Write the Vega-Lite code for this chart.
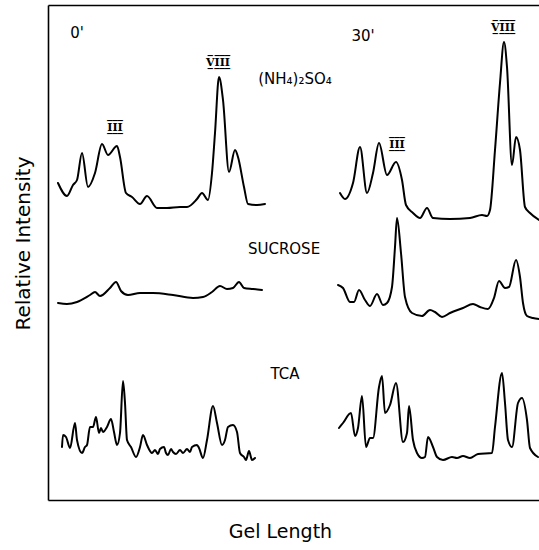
{
  "$schema": "https://vega.github.io/schema/vega-lite/v6.json",
  "width": 491,
  "height": 495,
  "autosize": {"type": "none"},
  "padding": {"left": 48, "top": 5, "right": 0, "bottom": 50},
  "background": "white",
  "config": {
    "view": {"stroke": null},
    "axis": {"domainColor": "black", "domainWidth": 1.6, "grid": false, "ticks": false, "labels": false, "titleFont": "DejaVu Sans", "titleFontWeight": "normal", "titleColor": "black"}
  },
  "datasets": {
    "traces": [
      {"trace": "0' (NH4)2SO4", "gel": 10, "intensity": 317},
      {"trace": "0' (NH4)2SO4", "gel": 19, "intensity": 304},
      {"trace": "0' (NH4)2SO4", "gel": 25, "intensity": 315},
      {"trace": "0' (NH4)2SO4", "gel": 29, "intensity": 320},
      {"trace": "0' (NH4)2SO4", "gel": 34, "intensity": 347},
      {"trace": "0' (NH4)2SO4", "gel": 40, "intensity": 313},
      {"trace": "0' (NH4)2SO4", "gel": 47, "intensity": 327},
      {"trace": "0' (NH4)2SO4", "gel": 54, "intensity": 356},
      {"trace": "0' (NH4)2SO4", "gel": 60, "intensity": 345},
      {"trace": "0' (NH4)2SO4", "gel": 69, "intensity": 354},
      {"trace": "0' (NH4)2SO4", "gel": 72, "intensity": 343},
      {"trace": "0' (NH4)2SO4", "gel": 78, "intensity": 307},
      {"trace": "0' (NH4)2SO4", "gel": 84, "intensity": 303},
      {"trace": "0' (NH4)2SO4", "gel": 92, "intensity": 296},
      {"trace": "0' (NH4)2SO4", "gel": 99, "intensity": 304},
      {"trace": "0' (NH4)2SO4", "gel": 109, "intensity": 292},
      {"trace": "0' (NH4)2SO4", "gel": 119, "intensity": 292},
      {"trace": "0' (NH4)2SO4", "gel": 132, "intensity": 293},
      {"trace": "0' (NH4)2SO4", "gel": 139, "intensity": 293},
      {"trace": "0' (NH4)2SO4", "gel": 149, "intensity": 301},
      {"trace": "0' (NH4)2SO4", "gel": 154, "intensity": 307},
      {"trace": "0' (NH4)2SO4", "gel": 160, "intensity": 300},
      {"trace": "0' (NH4)2SO4", "gel": 164, "intensity": 327},
      {"trace": "0' (NH4)2SO4", "gel": 167, "intensity": 367},
      {"trace": "0' (NH4)2SO4", "gel": 171, "intensity": 423},
      {"trace": "0' (NH4)2SO4", "gel": 175, "intensity": 400},
      {"trace": "0' (NH4)2SO4", "gel": 181, "intensity": 328},
      {"trace": "0' (NH4)2SO4", "gel": 187, "intensity": 350},
      {"trace": "0' (NH4)2SO4", "gel": 190, "intensity": 343},
      {"trace": "0' (NH4)2SO4", "gel": 196, "intensity": 313},
      {"trace": "0' (NH4)2SO4", "gel": 200, "intensity": 296},
      {"trace": "0' (NH4)2SO4", "gel": 209, "intensity": 295},
      {"trace": "0' (NH4)2SO4", "gel": 217, "intensity": 296},

      {"trace": "30' (NH4)2SO4", "gel": 292, "intensity": 307},
      {"trace": "30' (NH4)2SO4", "gel": 297, "intensity": 301},
      {"trace": "30' (NH4)2SO4", "gel": 305, "intensity": 317},
      {"trace": "30' (NH4)2SO4", "gel": 312, "intensity": 353},
      {"trace": "30' (NH4)2SO4", "gel": 319, "intensity": 307},
      {"trace": "30' (NH4)2SO4", "gel": 325, "intensity": 327},
      {"trace": "30' (NH4)2SO4", "gel": 331, "intensity": 357},
      {"trace": "30' (NH4)2SO4", "gel": 339, "intensity": 325},
      {"trace": "30' (NH4)2SO4", "gel": 348, "intensity": 338},
      {"trace": "30' (NH4)2SO4", "gel": 354, "intensity": 320},
      {"trace": "30' (NH4)2SO4", "gel": 358, "intensity": 295},
      {"trace": "30' (NH4)2SO4", "gel": 365, "intensity": 287},
      {"trace": "30' (NH4)2SO4", "gel": 372, "intensity": 282},
      {"trace": "30' (NH4)2SO4", "gel": 379, "intensity": 292},
      {"trace": "30' (NH4)2SO4", "gel": 385, "intensity": 282},
      {"trace": "30' (NH4)2SO4", "gel": 402, "intensity": 281},
      {"trace": "30' (NH4)2SO4", "gel": 422, "intensity": 282},
      {"trace": "30' (NH4)2SO4", "gel": 434, "intensity": 285},
      {"trace": "30' (NH4)2SO4", "gel": 439, "intensity": 284},
      {"trace": "30' (NH4)2SO4", "gel": 442, "intensity": 290},
      {"trace": "30' (NH4)2SO4", "gel": 447, "intensity": 350},
      {"trace": "30' (NH4)2SO4", "gel": 452, "intensity": 417},
      {"trace": "30' (NH4)2SO4", "gel": 456, "intensity": 458},
      {"trace": "30' (NH4)2SO4", "gel": 459, "intensity": 433},
      {"trace": "30' (NH4)2SO4", "gel": 464, "intensity": 335},
      {"trace": "30' (NH4)2SO4", "gel": 468, "intensity": 363},
      {"trace": "30' (NH4)2SO4", "gel": 472, "intensity": 350},
      {"trace": "30' (NH4)2SO4", "gel": 477, "intensity": 293},
      {"trace": "30' (NH4)2SO4", "gel": 482, "intensity": 287},
      {"trace": "30' (NH4)2SO4", "gel": 491, "intensity": 280},

      {"trace": "0' sucrose", "gel": 10, "intensity": 197},
      {"trace": "0' sucrose", "gel": 19, "intensity": 196},
      {"trace": "0' sucrose", "gel": 29, "intensity": 198},
      {"trace": "0' sucrose", "gel": 42, "intensity": 205},
      {"trace": "0' sucrose", "gel": 47, "intensity": 208},
      {"trace": "0' sucrose", "gel": 52, "intensity": 204},
      {"trace": "0' sucrose", "gel": 62, "intensity": 212},
      {"trace": "0' sucrose", "gel": 68, "intensity": 218},
      {"trace": "0' sucrose", "gel": 73, "intensity": 209},
      {"trace": "0' sucrose", "gel": 80, "intensity": 205},
      {"trace": "0' sucrose", "gel": 92, "intensity": 207},
      {"trace": "0' sucrose", "gel": 105, "intensity": 207},
      {"trace": "0' sucrose", "gel": 125, "intensity": 205},
      {"trace": "0' sucrose", "gel": 145, "intensity": 202},
      {"trace": "0' sucrose", "gel": 155, "intensity": 203},
      {"trace": "0' sucrose", "gel": 164, "intensity": 208},
      {"trace": "0' sucrose", "gel": 172, "intensity": 214},
      {"trace": "0' sucrose", "gel": 179, "intensity": 211},
      {"trace": "0' sucrose", "gel": 185, "intensity": 212},
      {"trace": "0' sucrose", "gel": 191, "intensity": 218},
      {"trace": "0' sucrose", "gel": 196, "intensity": 212},
      {"trace": "0' sucrose", "gel": 205, "intensity": 211},
      {"trace": "0' sucrose", "gel": 214, "intensity": 210},

      {"trace": "30' sucrose", "gel": 290, "intensity": 215},
      {"trace": "30' sucrose", "gel": 295, "intensity": 212},
      {"trace": "30' sucrose", "gel": 302, "intensity": 198},
      {"trace": "30' sucrose", "gel": 306, "intensity": 198},
      {"trace": "30' sucrose", "gel": 311, "intensity": 210},
      {"trace": "30' sucrose", "gel": 317, "intensity": 200},
      {"trace": "30' sucrose", "gel": 322, "intensity": 194},
      {"trace": "30' sucrose", "gel": 329, "intensity": 206},
      {"trace": "30' sucrose", "gel": 335, "intensity": 195},
      {"trace": "30' sucrose", "gel": 339, "intensity": 197},
      {"trace": "30' sucrose", "gel": 344, "intensity": 213},
      {"trace": "30' sucrose", "gel": 347, "intensity": 253},
      {"trace": "30' sucrose", "gel": 349, "intensity": 282},
      {"trace": "30' sucrose", "gel": 353, "intensity": 247},
      {"trace": "30' sucrose", "gel": 357, "intensity": 203},
      {"trace": "30' sucrose", "gel": 364, "intensity": 187},
      {"trace": "30' sucrose", "gel": 374, "intensity": 184},
      {"trace": "30' sucrose", "gel": 382, "intensity": 190},
      {"trace": "30' sucrose", "gel": 387, "intensity": 188},
      {"trace": "30' sucrose", "gel": 394, "intensity": 183},
      {"trace": "30' sucrose", "gel": 402, "intensity": 187},
      {"trace": "30' sucrose", "gel": 415, "intensity": 192},
      {"trace": "30' sucrose", "gel": 425, "intensity": 196},
      {"trace": "30' sucrose", "gel": 432, "intensity": 193},
      {"trace": "30' sucrose", "gel": 440, "intensity": 191},
      {"trace": "30' sucrose", "gel": 446, "intensity": 202},
      {"trace": "30' sucrose", "gel": 451, "intensity": 219},
      {"trace": "30' sucrose", "gel": 457, "intensity": 212},
      {"trace": "30' sucrose", "gel": 461, "intensity": 213},
      {"trace": "30' sucrose", "gel": 468, "intensity": 240},
      {"trace": "30' sucrose", "gel": 472, "intensity": 223},
      {"trace": "30' sucrose", "gel": 475, "intensity": 197},
      {"trace": "30' sucrose", "gel": 479, "intensity": 184},
      {"trace": "30' sucrose", "gel": 485, "intensity": 182},
      {"trace": "30' sucrose", "gel": 491, "intensity": 181},

      {"trace": "0' TCA", "gel": 14, "intensity": 53},
      {"trace": "0' TCA", "gel": 15, "intensity": 65},
      {"trace": "0' TCA", "gel": 18, "intensity": 63},
      {"trace": "0' TCA", "gel": 22, "intensity": 52},
      {"trace": "0' TCA", "gel": 27, "intensity": 77},
      {"trace": "0' TCA", "gel": 29, "intensity": 60},
      {"trace": "0' TCA", "gel": 34, "intensity": 47},
      {"trace": "0' TCA", "gel": 37, "intensity": 53},
      {"trace": "0' TCA", "gel": 39, "intensity": 55},
      {"trace": "0' TCA", "gel": 42, "intensity": 73},
      {"trace": "0' TCA", "gel": 45, "intensity": 73},
      {"trace": "0' TCA", "gel": 48, "intensity": 83},
      {"trace": "0' TCA", "gel": 51, "intensity": 67},
      {"trace": "0' TCA", "gel": 53, "intensity": 72},
      {"trace": "0' TCA", "gel": 55, "intensity": 68},
      {"trace": "0' TCA", "gel": 59, "intensity": 73},
      {"trace": "0' TCA", "gel": 63, "intensity": 81},
      {"trace": "0' TCA", "gel": 66, "intensity": 68},
      {"trace": "0' TCA", "gel": 69, "intensity": 55},
      {"trace": "0' TCA", "gel": 72, "intensity": 67},
      {"trace": "0' TCA", "gel": 75, "intensity": 119},
      {"trace": "0' TCA", "gel": 77, "intensity": 97},
      {"trace": "0' TCA", "gel": 79, "intensity": 60},
      {"trace": "0' TCA", "gel": 83, "intensity": 53},
      {"trace": "0' TCA", "gel": 88, "intensity": 43},
      {"trace": "0' TCA", "gel": 92, "intensity": 53},
      {"trace": "0' TCA", "gel": 95, "intensity": 65},
      {"trace": "0' TCA", "gel": 99, "intensity": 55},
      {"trace": "0' TCA", "gel": 104, "intensity": 47},
      {"trace": "0' TCA", "gel": 107, "intensity": 50},
      {"trace": "0' TCA", "gel": 110, "intensity": 46},
      {"trace": "0' TCA", "gel": 112, "intensity": 51},
      {"trace": "0' TCA", "gel": 116, "intensity": 53},
      {"trace": "0' TCA", "gel": 118, "intensity": 47},
      {"trace": "0' TCA", "gel": 120, "intensity": 45},
      {"trace": "0' TCA", "gel": 123, "intensity": 51},
      {"trace": "0' TCA", "gel": 125, "intensity": 48},
      {"trace": "0' TCA", "gel": 128, "intensity": 46},
      {"trace": "0' TCA", "gel": 132, "intensity": 50},
      {"trace": "0' TCA", "gel": 135, "intensity": 47},
      {"trace": "0' TCA", "gel": 139, "intensity": 51},
      {"trace": "0' TCA", "gel": 142, "intensity": 48},
      {"trace": "0' TCA", "gel": 144, "intensity": 53},
      {"trace": "0' TCA", "gel": 149, "intensity": 55},
      {"trace": "0' TCA", "gel": 151, "intensity": 52},
      {"trace": "0' TCA", "gel": 155, "intensity": 42},
      {"trace": "0' TCA", "gel": 159, "intensity": 60},
      {"trace": "0' TCA", "gel": 165, "intensity": 94},
      {"trace": "0' TCA", "gel": 169, "intensity": 77},
      {"trace": "0' TCA", "gel": 174, "intensity": 55},
      {"trace": "0' TCA", "gel": 177, "intensity": 60},
      {"trace": "0' TCA", "gel": 180, "intensity": 73},
      {"trace": "0' TCA", "gel": 185, "intensity": 75},
      {"trace": "0' TCA", "gel": 189, "intensity": 68},
      {"trace": "0' TCA", "gel": 192, "intensity": 47},
      {"trace": "0' TCA", "gel": 196, "intensity": 43},
      {"trace": "0' TCA", "gel": 198, "intensity": 40},
      {"trace": "0' TCA", "gel": 201, "intensity": 49},
      {"trace": "0' TCA", "gel": 204, "intensity": 40},
      {"trace": "0' TCA", "gel": 207, "intensity": 42},

      {"trace": "30' TCA", "gel": 291, "intensity": 72},
      {"trace": "30' TCA", "gel": 295, "intensity": 77},
      {"trace": "30' TCA", "gel": 303, "intensity": 87},
      {"trace": "30' TCA", "gel": 307, "intensity": 64},
      {"trace": "30' TCA", "gel": 310, "intensity": 72},
      {"trace": "30' TCA", "gel": 314, "intensity": 104},
      {"trace": "30' TCA", "gel": 318, "intensity": 53},
      {"trace": "30' TCA", "gel": 322, "intensity": 62},
      {"trace": "30' TCA", "gel": 325, "intensity": 62},
      {"trace": "30' TCA", "gel": 331, "intensity": 113},
      {"trace": "30' TCA", "gel": 334, "intensity": 124},
      {"trace": "30' TCA", "gel": 337, "intensity": 87},
      {"trace": "30' TCA", "gel": 342, "intensity": 95},
      {"trace": "30' TCA", "gel": 348, "intensity": 117},
      {"trace": "30' TCA", "gel": 355, "intensity": 58},
      {"trace": "30' TCA", "gel": 359, "intensity": 67},
      {"trace": "30' TCA", "gel": 361, "intensity": 94},
      {"trace": "30' TCA", "gel": 365, "intensity": 60},
      {"trace": "30' TCA", "gel": 369, "intensity": 47},
      {"trace": "30' TCA", "gel": 374, "intensity": 42},
      {"trace": "30' TCA", "gel": 377, "intensity": 43},
      {"trace": "30' TCA", "gel": 380, "intensity": 63},
      {"trace": "30' TCA", "gel": 385, "intensity": 53},
      {"trace": "30' TCA", "gel": 389, "intensity": 43},
      {"trace": "30' TCA", "gel": 395, "intensity": 40},
      {"trace": "30' TCA", "gel": 404, "intensity": 43},
      {"trace": "30' TCA", "gel": 409, "intensity": 42},
      {"trace": "30' TCA", "gel": 415, "intensity": 44},
      {"trace": "30' TCA", "gel": 422, "intensity": 42},
      {"trace": "30' TCA", "gel": 430, "intensity": 46},
      {"trace": "30' TCA", "gel": 444, "intensity": 47},
      {"trace": "30' TCA", "gel": 447, "intensity": 73},
      {"trace": "30' TCA", "gel": 454, "intensity": 127},
      {"trace": "30' TCA", "gel": 457, "intensity": 97},
      {"trace": "30' TCA", "gel": 460, "intensity": 60},
      {"trace": "30' TCA", "gel": 464, "intensity": 53},
      {"trace": "30' TCA", "gel": 470, "intensity": 97},
      {"trace": "30' TCA", "gel": 474, "intensity": 102},
      {"trace": "30' TCA", "gel": 479, "intensity": 80},
      {"trace": "30' TCA", "gel": 482, "intensity": 52},
      {"trace": "30' TCA", "gel": 490, "intensity": 43}
    ],
    "labels": [
      {"label": "0'", "gel": 29, "intensity": 467},
      {"label": "30'", "gel": 315, "intensity": 464},
      {"label": "(NH₄)₂SO₄", "gel": 247, "intensity": 421},
      {"label": "SUCROSE", "gel": 236, "intensity": 251},
      {"label": "TCA", "gel": 237, "intensity": 126}
    ],
    "bands": [
      {"label": "V̲̅I̲̅I̲̅I̲̅", "gel": 170, "intensity": 437},
      {"label": "V̲̅I̲̅I̲̅I̲̅", "gel": 455, "intensity": 472},
      {"label": "I̲̅I̲̅I̲̅", "gel": 67, "intensity": 372},
      {"label": "I̲̅I̲̅I̲̅", "gel": 349, "intensity": 355}
    ]
  },
  "resolve": {"axis": {"x": "independent"}},
  "layer": [
    {
      "data": {"name": "traces"},
      "mark": {"type": "line", "color": "black", "strokeWidth": 2, "strokeJoin": "round", "strokeCap": "round", "interpolate": "monotone"},
      "encoding": {
        "x": {"field": "gel", "type": "quantitative", "scale": {"domain": [0, 491], "nice": false, "zero": false},
          "axis": {"orient": "bottom", "title": "Gel Length", "titleFontSize": 19, "titleX": 232, "titleY": 31, "titleBaseline": "middle", "titleAnchor": null, "titleAlign": "center"}},
        "y": {"field": "intensity", "type": "quantitative", "scale": {"domain": [0, 495], "nice": false, "zero": false},
          "axis": {"orient": "left", "title": "Relative Intensity", "titleFontSize": 20, "titleX": -25, "titleY": 238, "titleAngle": -90, "titleBaseline": "middle", "titleAlign": "center"}},
        "detail": {"field": "trace", "type": "nominal"}
      }
    },
    {
      "data": {"name": "labels"},
      "mark": {"type": "text", "font": "DejaVu Sans", "fontSize": 15, "color": "black", "align": "center", "baseline": "middle"},
      "encoding": {
        "x": {"field": "gel", "type": "quantitative", "axis": {"orient": "top", "title": null}},
        "y": {"field": "intensity", "type": "quantitative"},
        "text": {"field": "label", "type": "nominal"}
      }
    },
    {
      "data": {"name": "bands"},
      "mark": {"type": "text", "font": "DejaVu Serif", "fontSize": 11, "fontWeight": "bold", "color": "black", "align": "center", "baseline": "middle"},
      "encoding": {
        "x": {"field": "gel", "type": "quantitative", "axis": null},
        "y": {"field": "intensity", "type": "quantitative"},
        "text": {"field": "label", "type": "nominal"}
      }
    }
  ]
}
